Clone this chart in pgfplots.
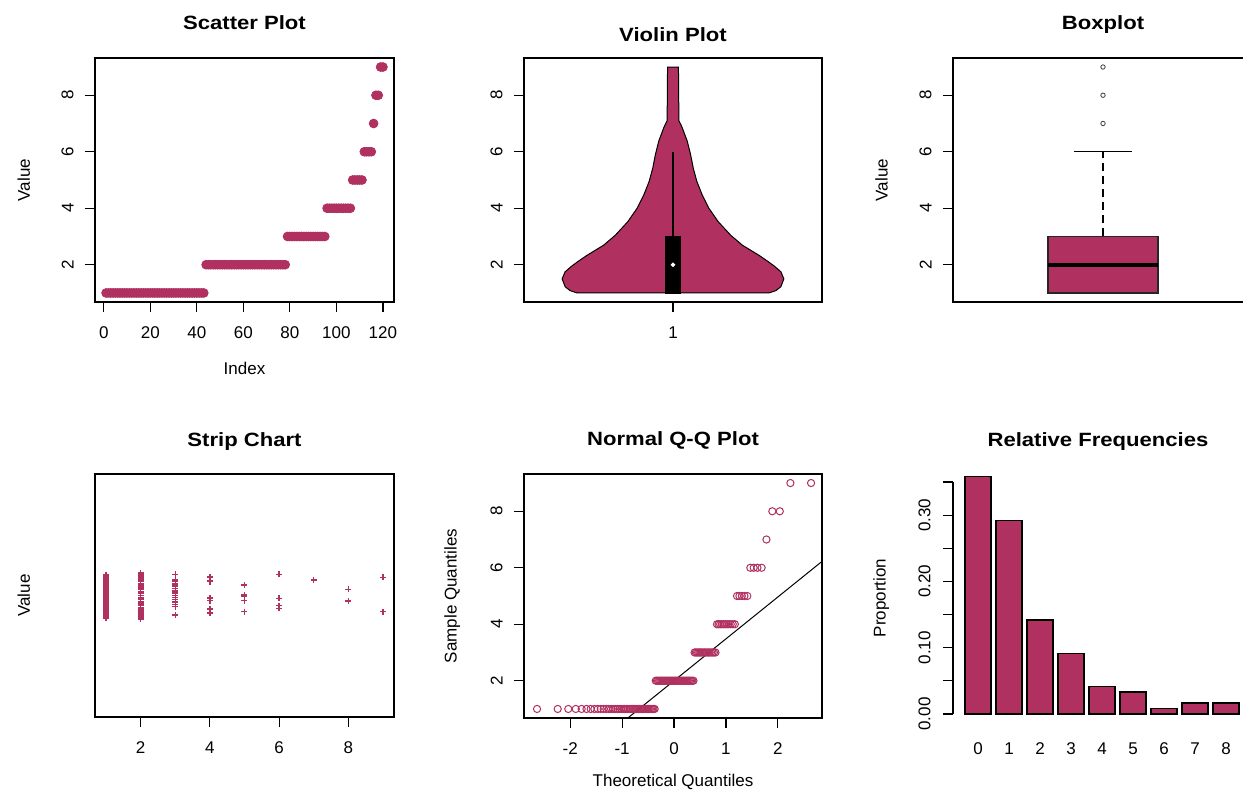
\documentclass[border=0pt]{standalone}
\usepackage{fontspec}
\setmainfont{Liberation Sans}
\newfontfamily\titlefont[FakeStretch=1.15]{Liberation Sans}
\usepackage{pgfplots}
\usepackage{pgfplotstable}
\pgfplotsset{compat=1.18}
\definecolor{maroonR}{HTML}{B03060}

\pgfplotstableread{
idx val theo
1 1 -2.639
2 1 -2.241
3 1 -2.037
4 1 -1.893
5 1 -1.780
6 1 -1.687
7 1 -1.606
8 1 -1.534
9 1 -1.469
10 1 -1.411
11 1 -1.356
12 1 -1.306
13 1 -1.259
14 1 -1.213
15 1 -1.171
16 1 -1.131
17 1 -1.092
18 1 -1.055
19 1 -1.019
20 1 -0.984
21 1 -0.951
22 1 -0.918
23 1 -0.887
24 1 -0.857
25 1 -0.827
26 1 -0.798
27 1 -0.769
28 1 -0.742
29 1 -0.714
30 1 -0.687
31 1 -0.661
32 1 -0.636
33 1 -0.610
34 1 -0.585
35 1 -0.561
36 1 -0.536
37 1 -0.512
38 1 -0.489
39 1 -0.466
40 1 -0.442
41 1 -0.419
42 1 -0.396
43 1 -0.374
44 2 -0.352
45 2 -0.330
46 2 -0.308
47 2 -0.286
48 2 -0.264
49 2 -0.243
50 2 -0.221
51 2 -0.200
52 2 -0.179
53 2 -0.157
54 2 -0.136
55 2 -0.115
56 2 -0.094
57 2 -0.073
58 2 -0.052
59 2 -0.031
60 2 -0.010
61 2 0.010
62 2 0.031
63 2 0.052
64 2 0.073
65 2 0.094
66 2 0.115
67 2 0.136
68 2 0.157
69 2 0.179
70 2 0.200
71 2 0.221
72 2 0.243
73 2 0.264
74 2 0.286
75 2 0.308
76 2 0.330
77 2 0.352
78 2 0.374
79 3 0.396
80 3 0.419
81 3 0.442
82 3 0.466
83 3 0.489
84 3 0.512
85 3 0.536
86 3 0.561
87 3 0.585
88 3 0.610
89 3 0.636
90 3 0.661
91 3 0.687
92 3 0.714
93 3 0.742
94 3 0.769
95 3 0.798
96 4 0.827
97 4 0.857
98 4 0.887
99 4 0.918
100 4 0.951
101 4 0.984
102 4 1.019
103 4 1.055
104 4 1.092
105 4 1.131
106 4 1.171
107 5 1.213
108 5 1.259
109 5 1.306
110 5 1.356
111 5 1.411
112 6 1.469
113 6 1.534
114 6 1.606
115 6 1.687
116 7 1.780
117 8 1.893
118 8 2.037
119 9 2.241
120 9 2.639
}\sorted

\pgfplotstableread{
x y
1 1.090
1 1.085
1 1.080
1 1.070
1 1.065
1 1.060
1 1.055
1 1.050
1 1.045
1 1.040
1 1.035
1 1.030
1 1.020
1 1.015
1 1.010
1 1.005
1 1.000
1 0.995
1 0.990
1 0.985
1 0.980
1 0.975
1 0.970
1 0.965
1 0.960
1 0.955
1 0.945
1 0.940
1 0.935
1 0.930
1 0.925
1 0.920
1 0.915
1 0.910
1 0.905
1 1.025
1 0.950
1 1.075
1 1.058
1 0.987
1 0.912
1 1.042
1 0.902
2 1.098
2 1.090
2 1.080
2 1.075
2 1.070
2 1.060
2 1.050
2 1.045
2 1.040
2 1.030
2 1.025
2 1.015
2 1.010
2 1.000
2 0.990
2 0.985
2 0.975
2 0.970
2 0.960
2 0.955
2 0.945
2 0.940
2 0.930
2 0.925
2 0.920
2 0.915
2 0.910
2 0.905
2 0.900
2 0.898
2 1.065
2 1.035
2 0.965
2 1.085
2 0.935
3 1.092
3 1.067
3 1.060
3 1.052
3 1.045
3 1.040
3 1.030
3 1.022
3 1.015
3 1.008
3 1.000
3 0.990
3 0.982
3 0.972
3 0.962
3 0.952
3 0.915
4 1.081
4 1.077
4 1.063
4 1.060
4 0.990
4 0.986
4 0.978
4 0.942
4 0.938
4 0.926
4 0.923
5 1.046
5 1.002
5 0.996
5 0.977
5 0.930
6 1.092
6 0.988
6 0.956
6 0.944
7 1.067
8 1.027
8 0.976
9 1.079
9 0.930
}\strip

\pgfplotsset{
  every axis title shift=0pt,
  rbase/.style={
    scale only axis,
    axis line style={line width=0.75bp, black},
    every tick/.style={line width=0.6bp, black},
    tick align=outside,
    major tick length=5bp,
    tick pos=left,
    tick label style={font=\fontsize{8.5bp}{9bp}\selectfont, inner sep=0pt},
    yticklabel style={rotate=90, anchor=south},
    xticklabel style={anchor=north},
    yticklabel shift=5.5bp,
    xticklabel shift=7bp,
    label style={font=\fontsize{8.5bp}{10bp}\selectfont},
    title style={font=\titlefont\bfseries\fontsize{9.6bp}{11bp}\selectfont, anchor=base},
    ylabel style={anchor=base},
    xlabel style={anchor=base},
  }
}

\begin{document}
\begin{tikzpicture}
\useasboundingbox (0,0) rectangle (621.5bp,396bp);
\clip (0,0) rectangle (621.5bp,396bp);

% Scatter Plot
\begin{axis}[rbase,
  at={(47.5bp,245bp)}, anchor=south west, width=149.5bp, height=122bp,
  xmin=-3.76, xmax=124.76, ymin=0.68, ymax=9.32,
  xtick={0,20,40,60,80,100,120}, xticklabels={0,20,40,60,80,100,120},
  ytick={2,4,6,8}, yticklabels={2,4,6,8},
  title={Scatter Plot}, title style={at={(0.5,1.115)}},
  xlabel={Index}, xlabel style={at={(axis description cs:0.5,-0.299)}},
  ylabel={Value}, ylabel style={at={(axis description cs:-0.2174,0.5)}},
]
\addplot[only marks, mark=*, mark size=2.2bp, color=maroonR] table[x=idx,y=val] {\sorted};
\end{axis}

% Violin Plot
\begin{axis}[rbase,
  at={(262bp,245bp)}, anchor=south west, width=149bp, height=122bp,
  xmin=0.5, xmax=1.5, ymin=0.68, ymax=9.32,
  xtick={1}, xticklabels={1},
  ytick={2,4,6,8}, yticklabels={2,4,6,8},
  title={Violin Plot}, title style={at={(0.5,1.067)}},
]
\addplot[fill=maroonR, draw=black, line width=0.5bp] coordinates {
 (1.322,1.00) (1.345,1.08) (1.362,1.22) (1.372,1.50) (1.362,1.75) (1.340,1.95) (1.318,2.12)
 (1.289,2.33) (1.233,2.69) (1.194,3.04) (1.152,3.52) (1.121,3.99) (1.098,4.47)
 (1.080,4.95) (1.068,5.42) (1.059,5.90) (1.048,6.37) (1.031,6.85) (1.026,6.97)
 (1.0195,7.10) (1.019,8.50) (1.018,9.00)
 (0.982,9.00) (0.981,8.50) (0.9805,7.10) (0.974,6.97) (0.969,6.85) (0.952,6.37)
 (0.941,5.90) (0.932,5.42) (0.920,4.95) (0.902,4.47) (0.879,3.99) (0.848,3.52)
 (0.806,3.04) (0.767,2.69) (0.711,2.33) (0.682,2.12) (0.660,1.95) (0.638,1.75)
 (0.628,1.50) (0.638,1.22) (0.655,1.08) (0.678,1.00)
} -- cycle;
\addplot[black, line width=0.6bp] coordinates {(1,3) (1,6)};
\addplot[fill=black, draw=black, line width=0.3bp] coordinates {(0.975,1) (1.025,1) (1.025,3) (0.975,3)} -- cycle;
\addplot[only marks, mark=*, mark size=0.9bp, color=white] coordinates {(1,2)};
\end{axis}

% Boxplot
\begin{axis}[rbase,
  at={(476.5bp,245bp)}, anchor=south west, width=150bp, height=122bp,
  xmin=0, xmax=2, ymin=0.68, ymax=9.32,
  xtick=\empty,
  ytick={2,4,6,8}, yticklabels={2,4,6,8},
  title={Boxplot}, title style={at={(0.5,1.118)}},
  ylabel={Value}, ylabel style={at={(axis description cs:-0.2177,0.5)}},
]
\addplot[fill=maroonR, draw=black!85, line width=0.6bp] coordinates {(0.633,1) (1.367,1) (1.367,3) (0.633,3)} -- cycle;
\addplot[black, line width=2.1bp] coordinates {(0.633,2) (1.367,2)};
\addplot[black, line width=0.6bp, dash pattern=on 4bp off 2.5bp] coordinates {(1,3) (1,6)};
\addplot[black, line width=0.6bp] coordinates {(0.809,6) (1.191,6)};
\addplot[only marks, mark=o, mark size=1.1bp, color=black!75, line width=0.4bp] coordinates {(1,7) (1,8) (1,9)};
\end{axis}

% Strip Chart
\begin{axis}[rbase,
  at={(47.5bp,37.5bp)}, anchor=south west, width=149.5bp, height=121.5bp,
  xmin=0.68, xmax=9.32, ymin=0.4717, ymax=1.5283,
  xtick={2,4,6,8}, xticklabels={2,4,6,8},
  ytick=\empty,
  title={Strip Chart}, title style={at={(0.5,1.115)}},
  ylabel={Value}, ylabel style={at={(axis description cs:-0.2174,0.5)}},
]
\addplot[only marks, mark=+, mark size=1.5bp, color=maroonR, line width=0.65bp] table[x=x,y=y] {\strip};
\end{axis}

% Normal Q-Q Plot
\begin{axis}[rbase,
  at={(262bp,37bp)}, anchor=south west, width=149bp, height=122bp,
  xmin=-2.89, xmax=2.85, ymin=0.68, ymax=9.32,
  xtick={-2,-1,0,1,2}, xticklabels={-2,-1,0,1,2},
  ytick={2,4,6,8}, yticklabels={2,4,6,8},
  title={Normal Q-Q Plot}, title style={at={(0.5,1.115)}},
  xlabel={Theoretical Quantiles}, xlabel style={at={(axis description cs:0.5,-0.2816)}},
  ylabel={Sample Quantiles}, ylabel style={at={(axis description cs:-0.2258,0.5)}},
]
\addplot[only marks, mark=o, mark size=1.8bp, color=maroonR, line width=0.5bp] table[x=theo,y=val] {\sorted};
\addplot[black, line width=0.5bp] coordinates {(-3,-2.448) (3,6.448)};
\end{axis}

% Relative Frequencies
\begin{axis}[rbase,
  at={(476.5bp,39bp)}, anchor=south west, width=145bp, height=116bp,
  xmin=-0.806, xmax=8.548, ymin=0, ymax=0.35,
  axis y line*=left, axis x line*=bottom,
  x axis line style={draw=none},
  xtick={0,1,2,3,4,5,6,7,8}, xticklabels={0,1,2,3,4,5,6,7,8},
  xtick style={draw=none},
  xticklabel shift=9bp,
  yticklabel shift=6bp,
  ytick={0,0.05,0.10,0.15,0.20,0.25,0.30,0.35},
  yticklabels={0.00,,0.10,,0.20,,0.30,},
  clip=false,
  title={Relative Frequencies}, title style={at={(0.5,1.155)}},
  ylabel={Proportion}, ylabel style={at={(axis description cs:-0.232,0.5)}},
]
\addplot[ybar, bar width=13bp, bar shift=0pt, fill=maroonR, draw=black, line width=0.7bp] coordinates {
 (0,0.3583) (1,0.2917) (2,0.1417) (3,0.0917) (4,0.0417) (5,0.0333) (6,0.0083) (7,0.0167) (8,0.0167)
};
\end{axis}
\end{tikzpicture}
\end{document}
